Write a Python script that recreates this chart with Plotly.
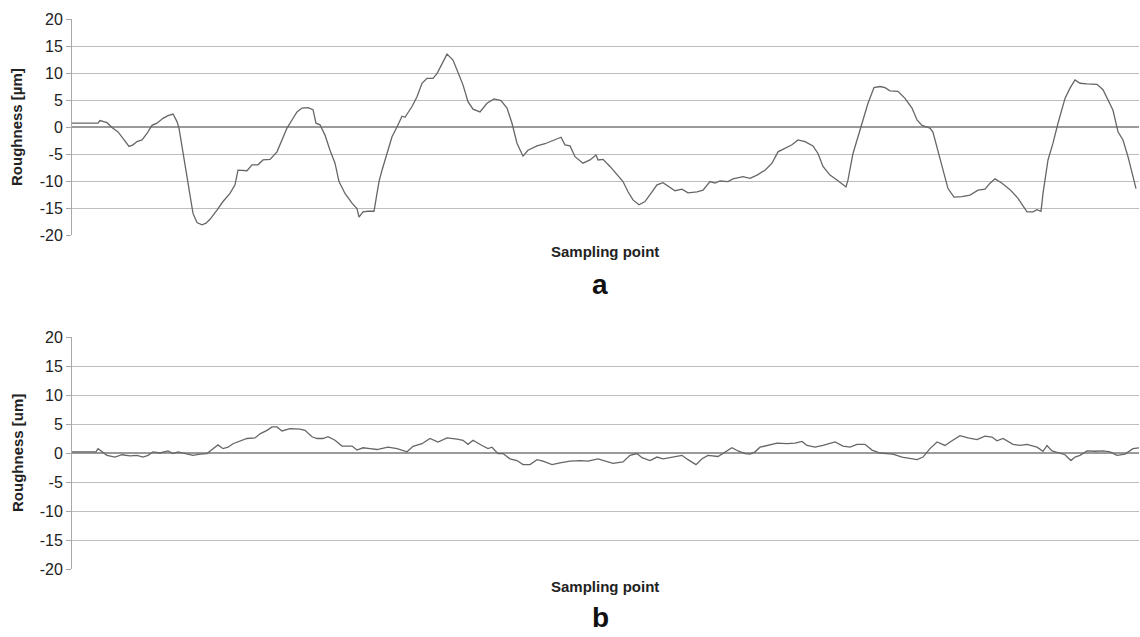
import plotly.graph_objects as go

# ---- data (sampling point index, roughness in µm) ----
a_x = [0, 26, 28, 35, 40, 46, 51, 57, 61, 65, 70, 75, 80, 85, 91, 96, 101, 105, 107, 111, 115, 118, 121, 125, 130, 134, 138,
       145, 151, 158, 163, 166, 170, 175, 180, 186, 191, 198, 205, 210, 215, 220, 225, 230, 236, 241, 244, 248, 253, 258,
       263, 267, 273, 280, 285, 287, 291, 296, 302, 305, 307, 310, 315, 320, 325, 330, 333, 340, 345, 350, 355, 361, 365,
       370, 375, 381, 386, 391, 396, 401, 408, 415, 422, 429, 435, 440, 445, 451, 456, 465, 473, 481, 489, 493, 498, 503,
       511, 518, 524, 526, 531, 538, 545, 551, 556, 561, 567, 573, 580, 585, 591, 596, 603, 610, 616, 625, 631, 638, 643,
       648, 656, 661, 671, 678, 685, 693, 700, 706, 713, 720, 726, 733, 741, 746, 751, 758, 765, 774, 776, 781, 786, 791,
       796, 802, 808, 813, 818, 826, 833, 840, 845, 850, 858, 861, 866, 871, 876, 882, 890, 898, 906, 913, 918, 923, 930,
       938, 946, 955, 961, 965, 969, 971, 976, 981, 986, 993, 998, 1003, 1008, 1015, 1025, 1031, 1036, 1041, 1046, 1051,
       1056, 1061, 1064]
a_y = [0.7, 0.7, 1.2, 0.8, -0.1, -0.9, -2.1, -3.6, -3.3, -2.7, -2.4, -1.2, 0.3, 0.7, 1.6, 2.1, 2.4, 1.0, -0.2, -4.9, -9.2,
       -13.2, -16.0, -17.7, -18.1, -17.8, -17.1, -15.4, -13.8, -12.3, -10.7, -8.0, -8.0, -8.1, -7.0, -7.0, -6.1, -6.0, -4.6,
       -2.4, -0.2, 1.3, 2.8, 3.5, 3.6, 3.2, 0.7, 0.4, -1.5, -4.3, -6.7, -10.1, -12.3, -14.1, -15.1, -16.7, -15.7, -15.6,
       -15.6, -12.3, -10.1, -8.0, -4.9, -1.8, 0.0, 2.0, 1.8, 3.8, 5.6, 8.1, 9.0, 9.0, 9.9, 11.8, 13.5, 12.4, 10.2, 7.8, 4.7,
       3.3, 2.8, 4.4, 5.2, 4.9, 3.5, 0.7, -3.0, -5.4, -4.3, -3.5, -3.1, -2.5, -1.9, -3.3, -3.5, -5.5, -6.7, -6.1, -5.2,
       -6.1, -6.0, -7.3, -8.9, -10.1, -12.0, -13.5, -14.4, -13.8, -12.0, -10.7, -10.3, -10.9, -11.8, -11.5, -12.2, -12.0,
       -11.7, -10.1, -10.4, -10.0, -10.1, -9.6, -9.2, -9.5, -8.9, -8.0, -6.7, -4.6, -3.9, -3.3, -2.4, -2.7, -3.5, -4.9,
       -7.3, -8.9, -9.8, -11.1, -9.8, -4.9, -1.8, 1.3, 4.4, 7.3, 7.5, 7.3, 6.7, 6.6, 5.3, 3.5, 1.3, 0.3, -0.2, -1.0, -4.6,
       -8.0, -11.4, -13.0, -12.9, -12.6, -11.7, -11.5, -10.4, -9.6, -10.4, -11.6, -13.2, -15.7, -15.7, -15.3, -15.6,
       -12.3, -6.1, -3.0, 0.7, 5.3, 7.2, 8.7, 8.1, 8.0, 7.9, 6.9, 5.0, 3.1, -0.9, -2.4, -5.5, -9.5, -11.4]

b_x = [0, 24, 26, 30, 35, 43, 50, 58, 65, 71, 76, 81, 88, 96, 101, 106, 115, 121, 128, 135, 141, 146, 151, 156, 161, 168,
       175, 183, 188, 195, 200, 205, 210, 218, 228, 233, 240, 245, 251, 256, 263, 270, 280, 285, 291, 298, 305, 316, 325,
       335, 341, 350, 358, 366, 375, 385, 391, 396, 401, 410, 416, 420, 426, 431, 438, 445, 451, 458, 465, 471, 480, 488,
       498, 508, 516, 526, 533, 541, 551, 558, 565, 570, 578, 585, 591, 600, 610, 616, 624, 630, 636, 646, 653, 660, 666,
       673, 678, 683, 688, 696, 705, 715, 723, 730, 735, 743, 751, 763, 771, 778, 785, 793, 800, 808, 821, 830, 838, 845,
       851, 858, 865, 873, 880, 888, 896, 905, 913, 920, 925, 931, 941, 948, 955, 965, 971, 975, 980, 988, 993, 999, 1003,
       1008, 1015, 1023, 1031, 1038, 1045, 1053, 1061, 1067]
b_y = [0.2, 0.2, 0.75, 0.2, -0.4, -0.7, -0.3, -0.5, -0.4, -0.7, -0.4, 0.2, 0.0, 0.35, -0.1, 0.2, -0.1, -0.4, -0.2, -0.1,
       0.75, 1.4, 0.75, 1.0, 1.6, 2.1, 2.5, 2.6, 3.3, 3.9, 4.5, 4.5, 3.8, 4.2, 4.1, 3.9, 2.8, 2.5, 2.5, 2.8, 2.2, 1.2, 1.2,
       0.5, 0.9, 0.75, 0.6, 1.0, 0.75, 0.2, 1.15, 1.6, 2.5, 1.9, 2.6, 2.4, 2.2, 1.5, 2.2, 1.3, 0.75, 1.0, -0.1, -0.1, -1.0,
       -1.3, -2.0, -2.0, -1.15, -1.4, -2.0, -1.7, -1.4, -1.3, -1.4, -1.0, -1.4, -1.8, -1.55, -0.4, -0.1, -0.8, -1.3, -0.7,
       -1.0, -0.7, -0.4, -1.15, -2.0, -1.0, -0.4, -0.6, 0.2, 0.9, 0.35, -0.1, -0.2, 0.2, 1.0, 1.3, 1.7, 1.6, 1.7, 2.0, 1.3,
       1.0, 1.3, 1.9, 1.2, 1.0, 1.5, 1.5, 0.5, 0.0, -0.2, -0.7, -0.9, -1.15, -0.7, 0.75, 1.9, 1.3, 2.1, 3.0, 2.6, 2.3, 2.9,
       2.75, 2.1, 2.5, 1.5, 1.3, 1.5, 1.0, 0.3, 1.3, 0.35, -0.1, -0.3, -1.3, -0.7, -0.4, 0.35, 0.3, 0.35, 0.2, -0.4, -0.2,
       0.75, 0.9]

y_ticks = [-20, -15, -10, -5, 0, 5, 10, 15, 20]
y_tick_labels = ["-20", "-15", "-10", "-5", "0", "5", "10", "15", "20"]
x_title = "Sampling point"
y_title_a = "Roughness [µm]"
y_title_b = "Roughness [um]"
panel_labels = ["a", "b"]

W, H = 1140, 637
LINE = "#666666"
GRID = "#bdbdbd"
FONT = "Liberation Sans, Arial, sans-serif"

fig = go.Figure()
fig.add_trace(go.Scatter(x=a_x, y=a_y, mode="lines", line=dict(color=LINE, width=1.3),
                         xaxis="x", yaxis="y", showlegend=False))
fig.add_trace(go.Scatter(x=b_x, y=b_y, mode="lines", line=dict(color=LINE, width=1.3),
                         xaxis="x2", yaxis="y2", showlegend=False))

xdom = [72 / W, 1139 / W]
dom_a = [1 - 235 / H, 1 - 19 / H]
dom_b = [1 - 569 / H, 1 - 337 / H]

def yax(dom, anchor):
    return dict(domain=dom, anchor=anchor, range=[-20, 20], tickvals=y_ticks, ticktext=y_tick_labels,
                automargin=False,
                showgrid=True, gridcolor=GRID, gridwidth=1,
                zeroline=True, zerolinecolor="#9a9a9a", zerolinewidth=2,
                showline=True, linecolor="#a8a8a8", linewidth=1,
                ticks="outside", ticklen=5, tickcolor="#a8a8a8",
                tickfont=dict(family=FONT, size=16, color="#222"),
                fixedrange=True)

def xax(anchor):
    return dict(domain=xdom, anchor=anchor, range=[0, 1067], showticklabels=False, automargin=False,
                showgrid=False, zeroline=False, showline=False, ticks="", fixedrange=True)

fig.update_layout(
    template="none",
    width=W, height=H, margin=dict(l=0, r=0, t=0, b=0, pad=0),
    paper_bgcolor="white", plot_bgcolor="white",
    xaxis=xax("y"), yaxis=yax(dom_a, "x"),
    xaxis2=xax("y2"), yaxis2=yax(dom_b, "x2"),
)

tf = dict(family=FONT, size=15, color="#222")
ann = [
    dict(text="<b>%s</b>" % y_title_a, x=17 / W, y=1 - 127 / H, textangle=-90, font=tf),
    dict(text="<b>%s</b>" % y_title_b, x=17 / W, y=1 - 453 / H, textangle=-90, font=tf),
    dict(text="<b>%s</b>" % x_title, x=605 / W, y=1 - 252 / H, font=tf),
    dict(text="<b>%s</b>" % x_title, x=605 / W, y=1 - 586 / H, font=tf),
    dict(text="<b>%s</b>" % panel_labels[0], x=600 / W, y=1 - 284 / H, font=dict(family=FONT, size=28, color="#111")),
    dict(text="<b>%s</b>" % panel_labels[1], x=600 / W, y=1 - 617 / H, font=dict(family=FONT, size=28, color="#111")),
]
for a in ann:
    a.update(xref="paper", yref="paper", showarrow=False, xanchor="center", yanchor="middle")
fig.update_layout(annotations=ann)

fig.write_html("out.html", config={"displayModeBar": False},
               post_script="document.body.style.margin='0';document.body.style.overflow='hidden';")
